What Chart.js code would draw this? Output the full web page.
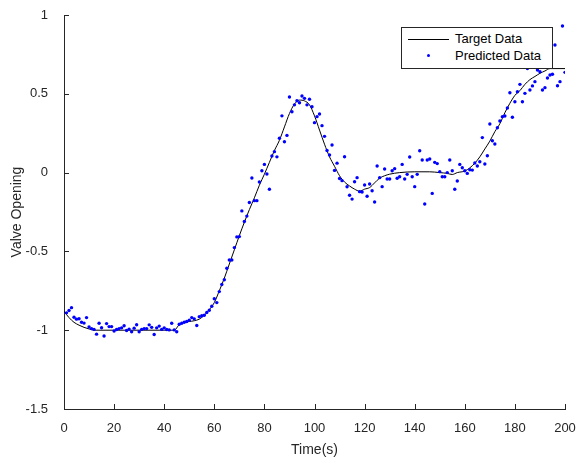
<!DOCTYPE html>
<html>
<head>
<meta charset="utf-8">
<script src="https://cdn.jsdelivr.net/npm/chart.js@4.4.1/dist/chart.umd.min.js"></script>
<style>
  html, body { margin: 0; padding: 0; background: #fff; }
  #wrap { position: relative; width: 576px; height: 459px; }
  #legend {
    position: absolute; left: 401px; top: 27px; width: 150px; height: 40px;
    border: 1px solid #262626; background: #fff;
    font: 13px "Liberation Sans", Arial, sans-serif; color: #000;
  }
  .row { position: absolute; left: 0; height: 16px; line-height: 16px; }
  .row span.txt { position: absolute; left: 53px; white-space: nowrap; }
  .sample-line { position: absolute; left: 6px; top: 8px; width: 41px; border-top: 1px solid #000; }
  .sample-dot { position: absolute; left: 25px; top: 6px; width: 3px; height: 3px; border-radius: 50%; background: #0000ff; }
</style>
</head>
<body>
<div id="wrap">
  <canvas id="chart" width="576" height="459"></canvas>
  <div id="legend">
    <div class="row" style="top:3px"><div class="sample-line"></div><span class="txt">Target Data</span></div>
    <div class="row" style="top:20px"><div class="sample-dot"></div><span class="txt">Predicted Data</span></div>
  </div>
</div>
<script>
// Axis tick labels
const xTickLabels = ['0', '20', '40', '60', '80', '100', '120', '140', '160', '180', '200'];
const yTickLabels = ['-1.5', '-1', '-0.5', '0', '0.5', '1'];

// Target curve (time in s, valve opening)
const targetTime = [0, 2, 4, 6, 8, 10, 12, 44, 46, 48, 50, 52, 54, 56, 58, 60, 62, 64, 66, 68, 70,
  72, 74, 76, 78, 80, 82, 84, 86, 88, 90, 92, 94, 96, 98, 100, 102, 104, 106, 108, 110,
  112, 114, 116, 118, 120, 122, 124, 126, 128, 130, 134, 140, 146, 150, 153, 155, 157, 160,
  162, 164, 166, 168, 170, 172, 174, 176, 178, 180, 182, 184, 186, 188, 190, 192, 194, 200];
const targetValue = [-0.88, -0.92, -0.95, -0.968, -0.982, -0.992, -1.0, -1.0, -0.965, -0.95, -0.945,
  -0.94, -0.93, -0.905, -0.87, -0.825, -0.75, -0.67, -0.58, -0.49, -0.4,
  -0.315, -0.235, -0.16, -0.08, -0.01, 0.065, 0.14, 0.205, 0.29, 0.375, 0.435, 0.46, 0.455, 0.43, 0.36,
  0.27, 0.18, 0.1, 0.04, -0.02, -0.06, -0.085, -0.105, -0.118, -0.105, -0.095, -0.065, -0.035, -0.02,
  -0.01, 0.0, 0.005, 0.005, 0.0, -0.005, -0.012, 0.0, 0.01, 0.03, 0.06, 0.1, 0.15, 0.2, 0.26, 0.31,
  0.38, 0.44, 0.49, 0.52, 0.56, 0.59, 0.61, 0.63, 0.645, 0.66, 0.66];

// Predicted data, one sample per second starting at t = 1 s
const predicted = [
  -0.89, -0.875, -0.857, -0.918, -0.93, -0.927, -0.95, -0.955, -0.92, -0.98,
  -0.99, -0.995, -1.025, -0.956, -0.984, -1.037, -0.958, -0.977, -0.977, -1.005,
  -0.996, -0.99, -0.985, -0.972, -1.002, -0.993, -1.01, -0.987, -0.965, -1.01,
  -0.995, -0.99, -0.99, -0.966, -0.982, -1.027, -0.985, -0.974, -0.995, -0.985,
  -0.996, -0.998, -0.956, -0.998, -1.01, -0.962, -0.956, -0.95, -0.945, -0.937,
  -0.92, -0.928, -0.97, -0.914, -0.908, -0.905, -0.888, -0.873, -0.848, -0.8,
  -0.825, -0.755, -0.71, -0.68, -0.607, -0.555, -0.555, -0.476, -0.408, -0.406,
  -0.243, -0.31, -0.276, -0.19, -0.034, -0.178, -0.178, -0.06, 0.012, 0.052,
  -0.009, -0.106, 0.105, 0.133, 0.1, 0.218, 0.36, 0.196, 0.236, 0.48,
  0.386, 0.43, 0.456, 0.443, 0.486, 0.471, 0.43, 0.465, 0.418, 0.317,
  0.355, 0.372, 0.298, 0.23, 0.14, 0.112, 0.175, 0.014, 0.06, -0.037,
  -0.051, 0.101, -0.09, -0.144, -0.168, -0.058, -0.032, -0.121, -0.123, -0.079,
  -0.15, -0.072, -0.115, -0.187, 0.042, -0.032, -0.089, 0.023, -0.041, -0.041,
  0.012, 0.025, -0.036, -0.026, 0.052, -0.041, -0.011, 0.099, -0.026, -0.089,
  -0.011, 0.139, 0.08, -0.199, 0.08, 0.086, -0.132, 0.065, 0.057, 0.006,
  -0.026, -0.026, 0.0, 0.08, 0.012, -0.106, -0.053, 0.052, 0.031, 0.012,
  -0.005, 0.018, 0.016, 0.061, 0.042, 0.069, 0.222, 0.055, 0.107, 0.308,
  0.202, 0.181, 0.285, 0.327, 0.355, 0.359, 0.41, 0.507, 0.351, 0.45,
  0.513, 0.56, 0.45, 0.503, 0.66, 0.524, 0.55, 0.577, 0.651, 0.64,
  0.524, 0.539, 0.6, 0.619, 0.624, 0.81, 0.551, 0.577, 0.93, 0.636
];

const axisColor = '#262626';
const fontFamily = '"Liberation Sans", Arial, sans-serif';

// MATLAB style ticks pointing into the plot area
const inwardTicks = {
  id: 'inwardTicks',
  afterDatasetsDraw(chart) {
    const { ctx, chartArea, scales: { x, y } } = chart;
    ctx.save();
    ctx.strokeStyle = axisColor;
    ctx.lineWidth = 1;
    ctx.beginPath();
    x.ticks.forEach(t => {
      const px = Math.round(x.getPixelForValue(t.value)) + 0.5;
      ctx.moveTo(px, chartArea.bottom);
      ctx.lineTo(px, chartArea.bottom - 5);
    });
    y.ticks.forEach(t => {
      const py = Math.round(y.getPixelForValue(t.value)) + 0.5;
      ctx.moveTo(chartArea.left, py);
      ctx.lineTo(chartArea.left + 5, py);
    });
    ctx.stroke();
    ctx.restore();
  }
};

const ctx = document.getElementById('chart').getContext('2d');
new Chart(ctx, {
  type: 'scatter',
  data: {
    datasets: [
      {
        label: 'Predicted Data',
        data: predicted.map((v, i) => ({ x: i + 1, y: v })),
        pointRadius: 1.7,
        pointBackgroundColor: '#0000ff',
        pointBorderWidth: 0,
        showLine: false,
        order: 0
      },
      {
        label: 'Target Data',
        data: targetTime.map((t, i) => ({ x: t, y: targetValue[i] })),
        showLine: true,
        borderColor: '#000',
        borderWidth: 1,
        pointRadius: 0,
        cubicInterpolationMode: 'monotone',
        order: 1
      }
    ]
  },
  options: {
    responsive: false,
    animation: false,
    layout: { padding: { top: 15, right: 11, bottom: 0, left: 0 } },
    plugins: { legend: { display: false }, tooltip: { enabled: false } },
    scales: {
      x: {
        type: 'linear',
        min: 0, max: 200,
        grid: { display: false },
        border: { color: axisColor, width: 1 },
        ticks: {
          stepSize: 20,
          padding: 4,
          color: axisColor,
          font: { family: fontFamily, size: 13 },
          maxRotation: 0,
          callback: (v, i) => xTickLabels[i]
        },
        title: {
          display: true, text: 'Time(s)', color: axisColor,
          font: { family: fontFamily, size: 14 },
          padding: { top: 0, bottom: 0 }
        },
        afterFit: s => { s.height = 50; s.paddingLeft = 0; s.paddingRight = 0; }
      },
      y: {
        min: -1.5, max: 1,
        grid: { display: false },
        border: { color: axisColor, width: 1 },
        ticks: {
          stepSize: 0.5,
          padding: 8,
          color: axisColor,
          font: { family: fontFamily, size: 13 },
          callback: (v, i) => yTickLabels[i]
        },
        title: {
          display: true, text: 'Valve Opening', color: axisColor,
          font: { family: fontFamily, size: 14 },
          padding: { top: 9, bottom: 0 }
        },
        afterFit: s => { s.width = 64; s.paddingTop = 0; s.paddingBottom = 0; }
      }
    }
  },
  plugins: [inwardTicks]
});
</script>
</body>
</html>
